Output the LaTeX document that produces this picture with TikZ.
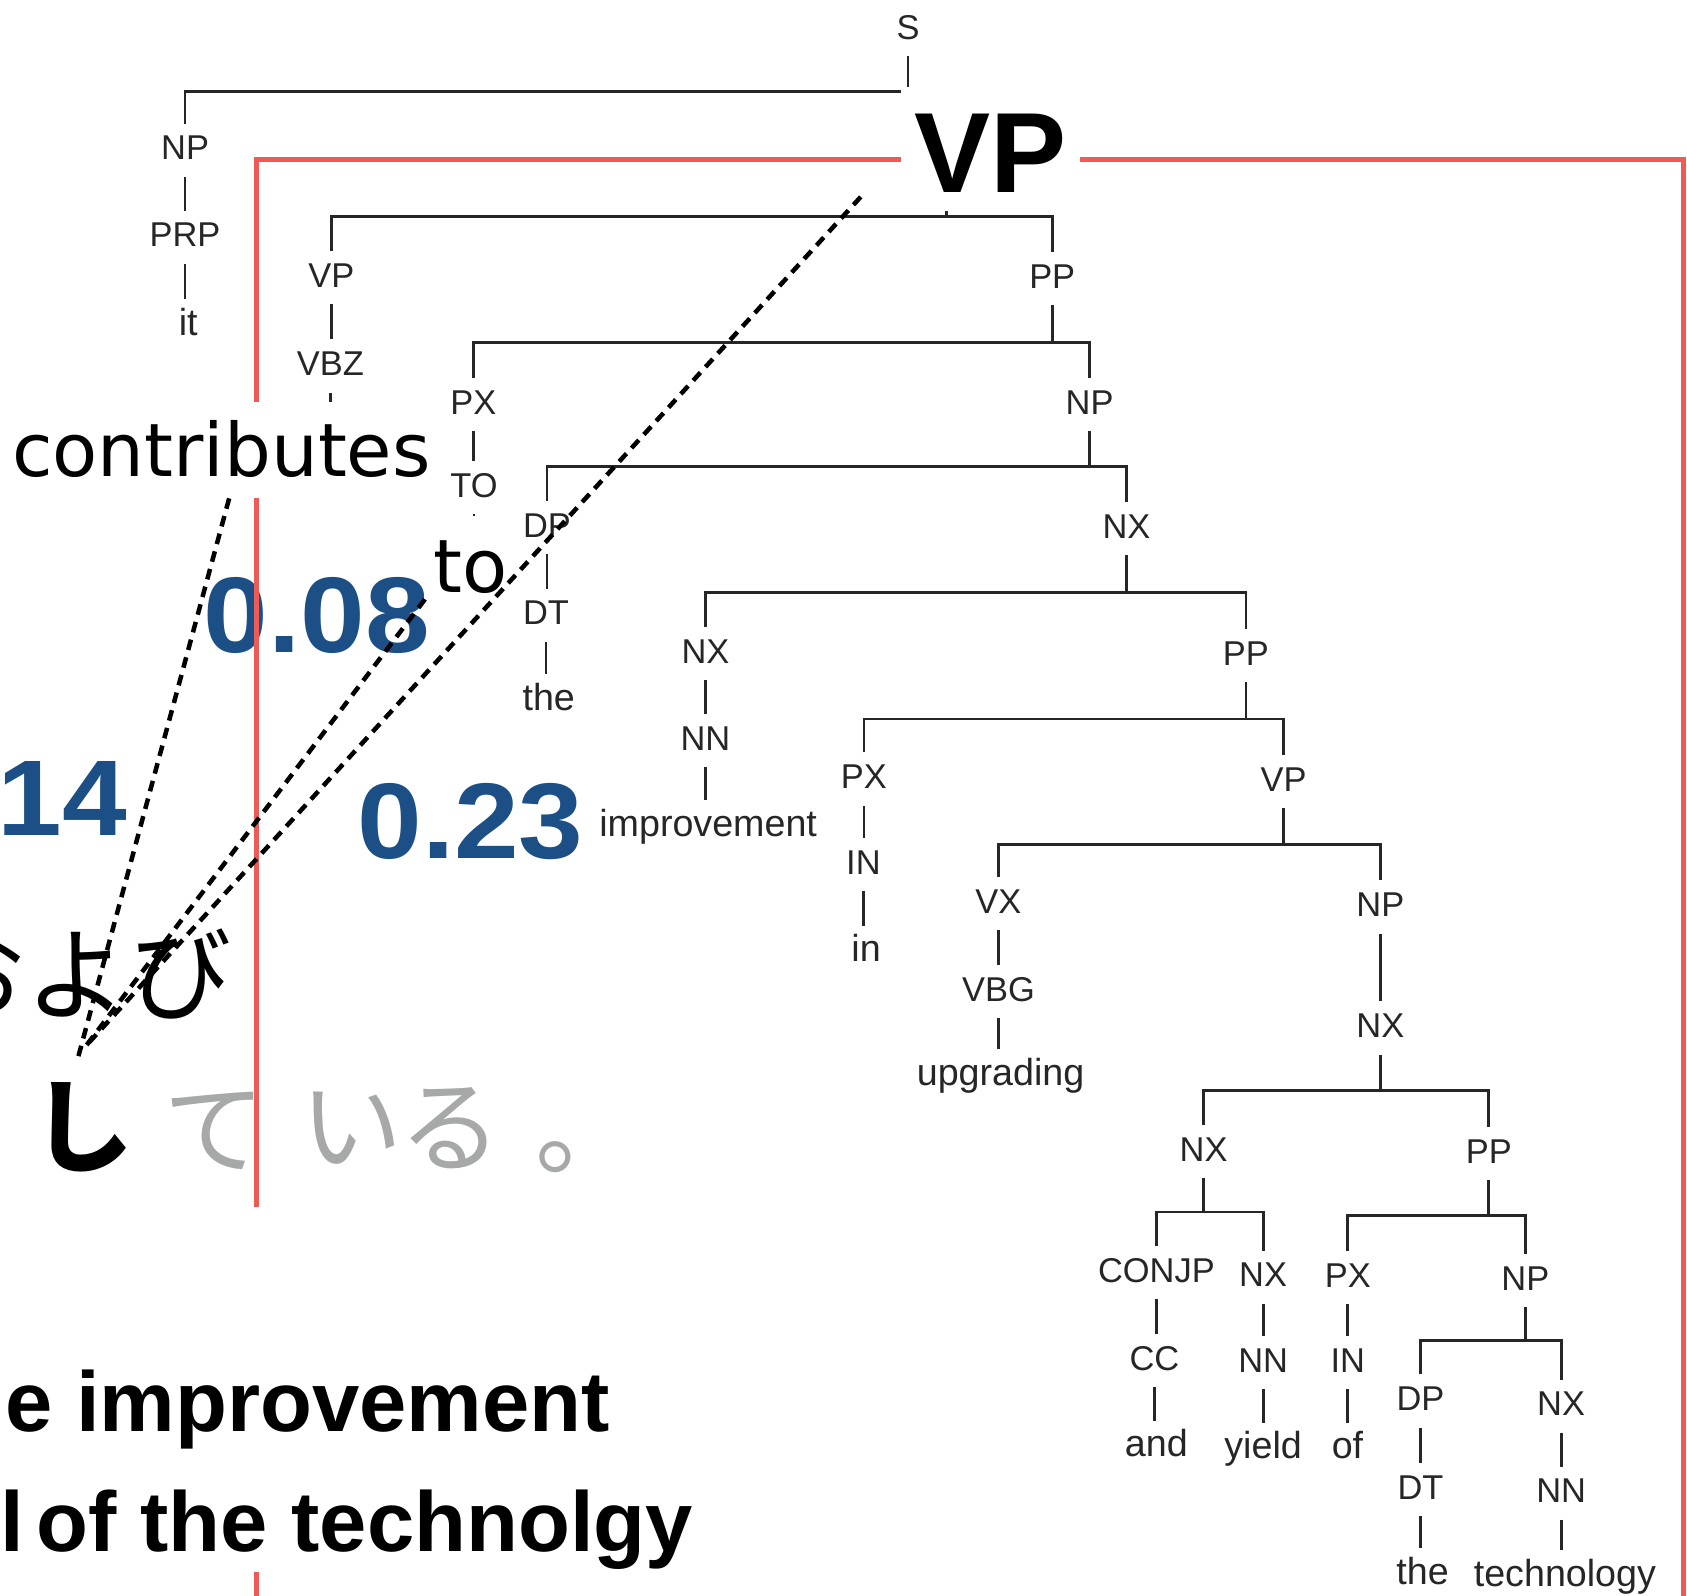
\documentclass[tikz,border=0pt]{standalone}
\usepackage{fontspec}
\setmainfont{Liberation Sans}
\newfontfamily\treefont{Liberation Sans}
\newfontfamily\glossfont{DejaVu Sans}
\newfontfamily\scorefont[FakeStretch=1.08]{Liberation Sans}
\newfontfamily\jafont{Noto Sans CJK JP}
\definecolor{scoreblue}{RGB}{27,79,134}
\definecolor{spanred}{RGB}{238,90,86}
\definecolor{kanagrey}{RGB}{166,169,167}

% tree helpers: unary edge (vertical below the parent), and a fork from a parent to two children at bar height #4
\newcommand\unary[2]{\draw[edge] (#1.south) -- (#1.south |- #2.north);}
\newcommand\fork[4]{%
  \draw[edge] (#1.south) -- (#1.south |- 0,#4);
  \draw[edge] (#2.north) -- (#2.north |- 0,#4) -| (#3.north);}

\begin{document}
\begin{tikzpicture}[x=1pt, y=-1pt,
  lab/.style={anchor=base, yshift=-11.5pt, inner sep=0pt, text height=33.5pt, text depth=15.5pt,
              text=black!85, font=\treefont\fontsize{32}{32}\selectfont},
  leaf/.style={anchor=base, inner sep=0pt, text height=33.5pt, text depth=15.5pt,
              text=black!85, font=\treefont\fontsize{35}{35}\selectfont},
  edge/.style={draw=black!85, line width=2.6pt},
  score/.style={inner sep=0pt, text=scoreblue, font=\scorefont\bfseries\fontsize{100}{100}\selectfont},
  kana/.style={inner sep=0pt, anchor=center, font=\jafont\fontsize{95}{95}\selectfont},
  redline/.style={draw=spanred, line width=4.5pt},
  cue/.style={draw=black, line width=4.2pt, dash pattern=on 10pt off 7pt},
  gloss/.style={fill=white, inner ysep=0pt, text depth=20pt, font=\glossfont\fontsize{68.6}{68.6}\selectfont},
  sentence/.style={inner sep=0pt, font=\treefont\bfseries\fontsize{79}{79}\selectfont}]

\useasboundingbox (0,0) rectangle (1568,1483);
\clip (0,0) rectangle (1568,1483);
\fill[white] (0,0) rectangle (1568,1483);

% ---------------- parse tree ----------------
\node[lab] (S) at (844,25) {S};
\node[lab] (NPa) at (172,137) {NP};
\node[lab] (PRP) at (172,218) {PRP};
\node[leaf] (it) at (175,312) {it};
\coordinate (vp0) at (880,185);

\node[lab] (VPa) at (308,255.6) {VP};
\node[lab] (PPa) at (978,256.5) {PP};
\node[lab] (VBZ) at (307,337.7) {VBZ};
\node[lab] (PXa) at (440,373.4) {PX};
\node[lab] (NPb) at (1012.7,373.4) {NP};
\node[lab] (TO) at (440.6,451) {TO};
\node[lab] (DPa) at (508.4,488) {DP};
\node[lab] (NXa) at (1047,489) {NX};
\node[lab] (DTa) at (507.5,569.3) {DT};
\node[leaf] (thea) at (510,660.4) {the};
\node[lab] (NXb) at (655.7,605) {NX};
\node[lab] (PPb) at (1158,607) {PP};
\node[lab] (NNa) at (655.7,686) {NN};
\node[leaf] (improvement) at (658.2,777.3) {improvement};
\node[lab] (PXb) at (803,721.6) {PX};
\node[lab] (VPb) at (1193,724) {VP};
\node[lab] (INa) at (802.5,801.4) {IN};
\node[leaf] (in) at (805,894) {in};
\node[lab] (VX) at (928,837.5) {VX};
\node[lab] (NPc) at (1283,840.5) {NP};
\node[lab] (VBG) at (928,919) {VBG};
\node[leaf] (upgrading) at (930,1009) {upgrading};
\node[lab] (NXc) at (1283,953) {NX};
\node[lab] (NXd) at (1118.7,1068) {NX};
\node[lab] (PPc) at (1383.8,1070) {PP};
\node[lab] (CONJP) at (1074.8,1180.4) {CONJP};
\node[lab] (NXe) at (1174,1184.6) {NX};
\node[lab] (PXc) at (1252.7,1184.7) {PX};
\node[lab] (NPd) at (1417.7,1188) {NP};
\node[lab] (CC) at (1073,1262) {CC};
\node[lab] (NNb) at (1174,1264) {NN};
\node[lab] (INb) at (1252.7,1264) {IN};
\node[leaf] (and) at (1074.8,1354) {and};
\node[leaf] (yield) at (1174,1356) {yield};
\node[leaf] (of) at (1252.4,1356) {of};
\node[lab] (DPb) at (1320.3,1299.6) {DP};
\node[lab] (NXf) at (1451,1304.4) {NX};
\node[lab] (DTb) at (1320.3,1382) {DT};
\node[lab] (NNc) at (1451,1385.3) {NN};
\node[leaf] (theb) at (1322.3,1472.7) {the};
\node[leaf] (technology) at (1454.5,1474.3) {technology};

% edges
\draw[edge] (S.south) -- (S.south |- 0,85);
\draw[edge] (NPa.north) -- (NPa.north |- 0,85) -- (vp0 |- 0,85);
\unary{NPa}{PRP}
\unary{PRP}{it}
\draw[edge] (vp0) -- (vp0 |- 0,201.4);
\draw[edge] (VPa.north) -- (VPa.north |- 0,201.4) -| (PPa.north);
\unary{VPa}{VBZ}
\draw[edge] (VBZ.south) -- ++(0,40);
\fork{PPa}{PXa}{NPb}{318.2}
\unary{PXa}{TO}
\draw[edge] (TO.south) -- ++(0,40);
\fork{NPb}{DPa}{NXa}{433.7}
\unary{DPa}{DTa}
\unary{DTa}{thea}
\fork{NXa}{NXb}{PPb}{551}
\unary{NXb}{NNa}
\unary{NNa}{improvement}
\fork{PPb}{PXb}{VPb}{668.3}
\unary{PXb}{INa}
\unary{INa}{in}
\fork{VPb}{VX}{NPc}{785}
\unary{VX}{VBG}
\unary{VBG}{upgrading}
\unary{NPc}{NXc}
\fork{NXc}{NXd}{PPc}{1013.8}
\fork{NXd}{CONJP}{NXe}{1126.4}
\unary{CONJP}{CC}
\unary{CC}{and}
\unary{NXe}{NNb}
\unary{NNb}{yield}
\fork{PPc}{PXc}{NPd}{1129.6}
\unary{PXc}{INb}
\unary{INb}{of}
\fork{NPd}{DPb}{NXf}{1246.1}
\unary{DPb}{DTb}
\unary{DTb}{theb}
\unary{NXf}{NNc}
\unary{NNc}{technology}

% ---------------- attention scores ----------------
\node[score, anchor=base west] (s008) at (189,606) {0.08};
\node[score, anchor=base west] (s023) at (332,797.6) {0.23};
\node[score, anchor=base east] (s014) at (118,777) {14};

% ---------------- Japanese sentence ----------------
\node[kana] (jo) at (-24,905) {お};
\node[kana] (jyo) at (71,905.5) {よ};
\node[kana] (jbi) at (168,905.5) {び};
\node[kana, font=\jafont\bfseries\fontsize{95}{95}\selectfont] (jshi) at (77,1048) {し};
\node[kana, text=kanagrey] (jte) at (199,1051) {て};
\node[kana, text=kanagrey] (ji) at (327,1048.7) {い};
\node[kana, text=kanagrey] (jru) at (419,1048.7) {る};
\node[kana, text=kanagrey] (jmaru) at (545,1075.5) {。};

% ---------------- span frame ----------------
\draw[redline] (238.3,1490) -- (238.3,1460.8);
\draw[redline] (238.3,1121.5) -- (238.3,148.4) -- (1564.8,148.4) -- (1564.8,1490);

% ---------------- highlighted words ----------------
\node[gloss, anchor=base west, inner xsep=6pt, text height=69.5pt] (contrib) at (5,443) {contributes};
\node[gloss, anchor=base west, inner xsep=4pt, text height=71pt] (to) at (399,551) {to};
\node[fill=white, anchor=base, inner xsep=12.5pt, inner ysep=0pt, text height=98pt, text depth=17pt,
      font=\treefont\bfseries\fontsize{106}{106}\selectfont] (VPbig) at (921,179) {VP};

% ---------------- English sentence ----------------
\node[sentence, anchor=base east] (en1) at (567,1330.7) {e improvement};
\node[sentence, anchor=base west] (en2) at (0,1442) {l\hspace{12pt}of the technolgy};

% ---------------- alignment cues ----------------
\coordinate (vpfoot) at (800,183);
\coordinate (tofoot) at (395,557);
\coordinate (shiA) at (80,972);
\coordinate (shiB) at (72,985);
\draw[cue] (contrib.south -| 213,0) -- (shiB);
\draw[cue] (vpfoot) -- (shiA);
\draw[cue] (tofoot) -- (shiA);
\end{tikzpicture}
\end{document}
